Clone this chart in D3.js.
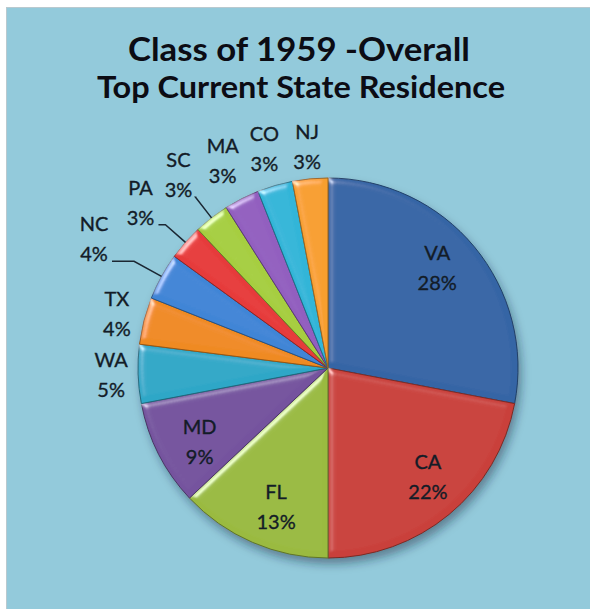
<!DOCTYPE html>
<html>
<head>
<meta charset="utf-8">
<script src="https://cdn.jsdelivr.net/npm/d3@7"></script>
<style>
  body { margin: 0; background: #fff; }
  svg { display: block; }
</style>
</head>
<body>
<script>
// chart data
const states = ["VA", "CA", "FL", "MD", "WA", "TX", "NC", "PA", "SC", "MA", "CO", "NJ"];
const shares = [28, 22, 13, 9, 5, 4, 4, 3, 3, 3, 3, 3];
const titleLines = ["Class of 1959 -Overall", "Top Current State Residence"];

// Excel-ish palette, one per slice
const sliceColors = ["#3465a5", "#c9413a", "#9aba40", "#74539e", "#2ea7c7", "#ef8a22",
                     "#3f85d6", "#e63b3b", "#a6ce3f", "#925ebf", "#30b5d8", "#f79f2e"];

// extra push of the outside labels, and which ones get a leader line
const labelPush = { WA: 27, TX: 28, NC: 77, PA: 60, SC: 54, MA: 42, CO: 38, NJ: 32 };
const withLeader = ["NC", "PA", "SC"];

const width = 590, height = 609;
const cx = 328, cy = 368, r = 190;

const svg = d3.select("body").append("svg")
    .attr("width", width)
    .attr("height", height);

const defs = svg.append("defs");

// soft shadow under the pie
defs.append("filter").attr("id", "shadow")
    .attr("x", "-20%").attr("y", "-20%").attr("width", "140%").attr("height", "140%")
  .append("feGaussianBlur").attr("stdDeviation", 5);

// bevel look for each slice
const bevel = defs.append("filter").attr("id", "bevel")
    .attr("x", "-5%").attr("y", "-5%").attr("width", "110%").attr("height", "110%");
bevel.append("feGaussianBlur").attr("in", "SourceAlpha").attr("stdDeviation", 3).attr("result", "blur");
bevel.append("feSpecularLighting")
    .attr("in", "blur").attr("surfaceScale", 4).attr("specularConstant", 0.5)
    .attr("specularExponent", 26).attr("lighting-color", "#ffffff").attr("result", "spec")
  .append("feDistantLight").attr("azimuth", 225).attr("elevation", 28);
bevel.append("feComposite").attr("in", "spec").attr("in2", "SourceAlpha")
    .attr("operator", "in").attr("result", "specIn");
bevel.append("feComposite").attr("in", "SourceGraphic").attr("in2", "specIn")
    .attr("operator", "arithmetic").attr("k1", 0).attr("k2", 1).attr("k3", 1).attr("k4", 0);

// background panel
svg.append("rect")
    .attr("x", 6).attr("y", 7)
    .attr("width", width - 6).attr("height", height - 7)
    .attr("fill", "#93cadb");
svg.append("line")
    .attr("x1", 6).attr("x2", width).attr("y1", 7.5).attr("y2", 7.5)
    .attr("stroke", "#b9c9cf");
svg.append("line")
    .attr("x1", 6.5).attr("x2", 6.5).attr("y1", 7).attr("y2", height)
    .attr("stroke", "#b9c9cf");

// title
svg.append("text")
    .attr("x", 299).attr("y", 61)
    .attr("text-anchor", "middle")
    .attr("font-family", "Lato, 'Open Sans', sans-serif")
    .attr("font-weight", "bold")
    .attr("font-size", 33)
    .attr("textLength", 342)
    .attr("lengthAdjust", "spacingAndGlyphs")
    .attr("fill", "#0c0c14")
    .text(titleLines[0]);
svg.append("text")
    .attr("x", 301).attr("y", 98)
    .attr("text-anchor", "middle")
    .attr("font-family", "Lato, 'Open Sans', sans-serif")
    .attr("font-weight", "bold")
    .attr("font-size", 31)
    .attr("textLength", 408)
    .attr("lengthAdjust", "spacingAndGlyphs")
    .attr("fill", "#0c0c14")
    .text(titleLines[1]);

const pie = d3.pie().sort(null).value(d => d)(shares);
const arc = d3.arc().innerRadius(0).outerRadius(r);

const g = svg.append("g").attr("transform", `translate(${cx},${cy})`);

g.append("circle")
    .attr("cx", 3).attr("cy", 6).attr("r", r)
    .attr("fill", "rgba(20,40,60,0.45)")
    .attr("filter", "url(#shadow)");

g.selectAll("path.slice")
    .data(pie)
    .join("path")
    .attr("class", "slice")
    .attr("d", arc)
    .attr("fill", (d, i) => sliceColors[i])
    .attr("stroke", (d, i) => d3.color(sliceColors[i]).darker(1.3))
    .attr("stroke-width", 1)
    .attr("filter", "url(#bevel)");

// where a label sits (inside ones nudged a little counter-clockwise, like Excel did)
function labelPos(d) {
    const name = states[d.index];
    const a0 = (d.startAngle + d.endAngle) / 2;
    if (labelPush[name] === undefined) {
        const a = a0 - 0.05;
        return [148 * Math.sin(a), -148 * Math.cos(a)];
    }
    const dist = r + labelPush[name];
    return [dist * Math.sin(a0), -dist * Math.cos(a0)];
}

const labelColor = "#131c27";

// leader lines for the crowded ones
pie.filter(d => withLeader.includes(states[d.index])).forEach(d => {
    const a = (d.startAngle + d.endAngle) / 2;
    const [lx, ly] = labelPos(d);
    const yLine = ly + 22;
    const edge = [r * Math.sin(a), -r * Math.cos(a)];
    const t = -yLine / Math.cos(a);
    const elbow = [t * Math.sin(a), yLine];
    g.append("path")
        .attr("d", d3.line()([edge, elbow, [lx + 18, yLine]]))
        .attr("fill", "none")
        .attr("stroke", "#1b2733")
        .attr("stroke-width", 1.5);
});

const labels = g.selectAll("text.lbl")
    .data(pie)
    .join("text")
    .attr("class", "lbl")
    .attr("text-anchor", "middle")
    .attr("font-family", "Lato, 'Open Sans', sans-serif")
    .attr("font-size", 20)
    .attr("fill", labelColor)
    .attr("stroke", labelColor)
    .attr("stroke-width", 0.35);

labels.each(function(d) {
    const [x, y] = labelPos(d);
    const t = d3.select(this);
    t.append("tspan").attr("x", x).attr("y", y - 8).text(states[d.index]);
    t.append("tspan").attr("x", x).attr("y", y + 22).text(shares[d.index] + "%");
});
</script>
</body>
</html>
